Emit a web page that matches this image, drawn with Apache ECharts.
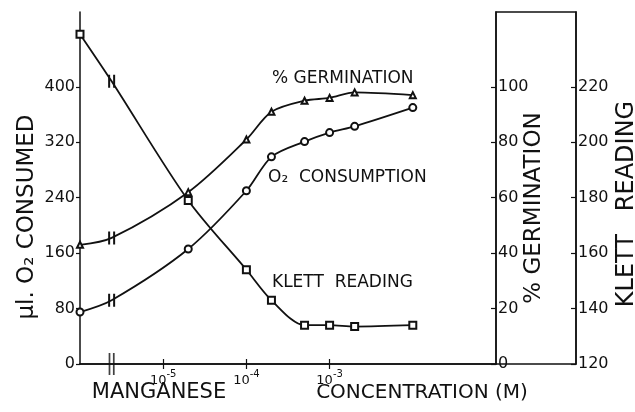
<!DOCTYPE html>
<html lang="en">
<head>
<meta charset="UTF-8" />
<title>Manganese concentration</title>
<script src="https://cdn.jsdelivr.net/npm/echarts@6.0.0/dist/echarts.min.js"></script>
<style>
  html, body { margin: 0; padding: 0; background: #fff; }
  #chart { width: 635px; height: 412px; }
</style>
</head>
<body>
<div id="chart"></div>
<script>
// Mn concentration (M). First point is the control (no Mn), drawn at the left end of the axis
var concentration = [1e-6, 2e-5, 1e-4, 2e-4, 5e-4, 1e-3, 2e-3, 1e-2];
var o2Consumed = [75, 166, 250, 299, 321, 334, 343, 370];
var germination = [43, 62, 81, 91, 95, 96, 98, 97];
var klettReading = [239, 179, 154, 143, 134, 134, 133.5, 134];

// axis break (||) between control and Mn series, and where each curve crosses it
var breakConc = 2.4e-6;
var breakO2 = 92;
var breakGerm = 45.5;
var breakKlett = 222;

var concTicks = [1e-5, 1e-4, 1e-3];
var o2Ticks = [0, 80, 160, 240, 320, 400];
var germTicks = [0, 20, 40, 60, 80, 100];
var klettTicks = [120, 140, 160, 180, 200, 220];

var o2Max = 508;
var germMax = o2Max / 4;       // 100 % lines up with 400 ul
var klettMin = 120;
var klettMax = klettMin + germMax;

var FONT = 'DejaVu Sans';
var INK = '#111';
var gridLeft = 80, gridRight = 139, gridTop = 12, gridBottom = 48;
var klettOffset = 80;
var BREAK = 'path://M0,0h2v10h-2zM5,0h2v10h-2z';

var chart = echarts.init(document.getElementById('chart'));
var W = chart.getWidth();

function withBreak(values, breakValue) {
  var d = [];
  for (var i = 0; i < values.length; i++) {
    d.push([concentration[i], values[i]]);
    if (i === 0) {
      d.push({ value: [breakConc, breakValue], symbol: BREAK, symbolSize: [7, 13] });
    }
  }
  return d;
}

// 10^-5 style label, exponent as a raised smaller run
function powerLabel(v) {
  return '{b|10}{e|' + Math.round(Math.log10(v)) + '}';
}

var lineStyle = { color: INK, width: 1.8 };
var axisLine = { show: true, lineStyle: { color: INK, width: 1.5 } };

var option = {
  backgroundColor: '#fff',
  animation: false,
  grid: { left: gridLeft, right: gridRight, top: gridTop, bottom: gridBottom },
  xAxis: [
    {
      type: 'log',
      min: 1e-6,
      max: 0.1,
      position: 'bottom',
      axisLine: axisLine,
      splitLine: { show: false },
      axisTick: { inside: true, length: 5, customValues: concTicks, lineStyle: { color: INK, width: 1.2 } },
      axisLabel: {
        customValues: concTicks,
        formatter: powerLabel,
        margin: 5,
        rich: {
          b: { color: INK, fontFamily: FONT, fontSize: 13, lineHeight: 18, verticalAlign: 'bottom' },
          e: { color: INK, fontFamily: FONT, fontSize: 10, lineHeight: 12, verticalAlign: 'top' }
        }
      }
    },
    {
      type: 'log',
      min: 1e-6,
      max: 0.1,
      position: 'top',
      axisLine: axisLine,
      splitLine: { show: false },
      axisTick: { inside: true, length: 5, customValues: concTicks, lineStyle: { color: INK, width: 1.2 } },
      axisLabel: { show: false }
    }
  ],
  yAxis: [
    {
      type: 'value',
      min: 0,
      max: o2Max,
      position: 'left',
      axisLine: axisLine,
      splitLine: { show: false },
      axisTick: { length: 4, customValues: o2Ticks, lineStyle: { color: INK, width: 1.2 } },
      axisLabel: { customValues: o2Ticks, color: INK, fontFamily: FONT, fontSize: 16, margin: 5 }
    },
    {
      type: 'value',
      min: 0,
      max: germMax,
      position: 'right',
      axisLine: axisLine,
      splitLine: { show: false },
      axisTick: { inside: true, length: 5, customValues: germTicks, lineStyle: { color: INK, width: 1.2 } },
      axisLabel: { customValues: germTicks, color: INK, fontFamily: FONT, fontSize: 16, margin: 2 }
    },
    {
      type: 'value',
      min: klettMin,
      max: klettMax,
      position: 'right',
      offset: klettOffset,
      axisLine: axisLine,
      splitLine: { show: false },
      axisTick: { inside: true, length: 5, customValues: klettTicks, lineStyle: { color: INK, width: 1.2 } },
      axisLabel: { customValues: klettTicks, color: INK, fontFamily: FONT, fontSize: 16, margin: 2 }
    }
  ],
  graphic: [
    // closes the frame between the two right-hand axes
    {
      type: 'rect',
      shape: { x: W - gridRight, y: gridTop, width: klettOffset, height: chart.getHeight() - gridTop - gridBottom },
      style: { fill: 'none', stroke: INK, lineWidth: 1.5 },
      silent: true
    },
    { type: 'text', x: 27, y: 217, rotation: Math.PI / 2,
      style: { text: '\u03BCl. O\u2082 CONSUMED', font: '23px "DejaVu Sans"', fill: INK, textAlign: 'center', textVerticalAlign: 'middle' } },
    { type: 'text', x: 534, y: 208, rotation: Math.PI / 2,
      style: { text: '% GERMINATION', font: '23px "DejaVu Sans"', fill: INK, textAlign: 'center', textVerticalAlign: 'middle' } },
    { type: 'text', x: 627, y: 204, rotation: Math.PI / 2,
      style: { text: 'KLETT   READING', font: '24px "DejaVu Sans"', fill: INK, textAlign: 'center', textVerticalAlign: 'middle' } },
    { type: 'text', x: 159, y: 393,
      style: { text: 'MANGANESE', font: '21px "DejaVu Sans"', fill: INK, textAlign: 'center', textVerticalAlign: 'middle' } },
    { type: 'text', x: 422, y: 393,
      style: { text: 'CONCENTRATION (M)', font: '20px "DejaVu Sans"', fill: INK, textAlign: 'center', textVerticalAlign: 'middle' } },
    { type: 'text', x: 272, y: 79,
      style: { text: '% GERMINATION', font: '17px "DejaVu Sans"', fill: INK, textAlign: 'left', textVerticalAlign: 'middle' } },
    { type: 'text', x: 268, y: 178,
      style: { text: 'O\u2082  CONSUMPTION', font: '17px "DejaVu Sans"', fill: INK, textAlign: 'left', textVerticalAlign: 'middle' } },
    { type: 'text', x: 272, y: 283,
      style: { text: 'KLETT  READING', font: '17px "DejaVu Sans"', fill: INK, textAlign: 'left', textVerticalAlign: 'middle' } }
  ],
  series: [
    {
      name: '% Germination',
      type: 'line',
      yAxisIndex: 1,
      smooth: 0.3,
      clip: false,
      symbol: 'emptyTriangle',
      symbolSize: 6,
      lineStyle: lineStyle,
      itemStyle: { color: INK, borderWidth: 1.2 },
      data: withBreak(germination, breakGerm)
    },
    {
      name: 'O2 consumption',
      type: 'line',
      yAxisIndex: 0,
      smooth: 0.3,
      clip: false,
      symbol: 'emptyCircle',
      symbolSize: 7,
      lineStyle: lineStyle,
      itemStyle: { color: INK, borderWidth: 1.2 },
      data: withBreak(o2Consumed, breakO2)
    },
    {
      name: 'Klett reading',
      type: 'line',
      yAxisIndex: 2,
      smooth: 0.3,
      clip: false,
      symbol: 'emptyRect',
      symbolSize: 7,
      lineStyle: lineStyle,
      itemStyle: { color: INK, borderWidth: 1.2 },
      data: withBreak(klettReading, breakKlett)
    },
    {
      name: 'axis break',
      type: 'scatter',
      yAxisIndex: 0,
      clip: false,
      symbol: BREAK,
      symbolSize: [6, 22],
      itemStyle: { color: INK },
      data: [[breakConc, 0]]
    }
  ]
};

chart.setOption(option);
</script>
</body>
</html>
